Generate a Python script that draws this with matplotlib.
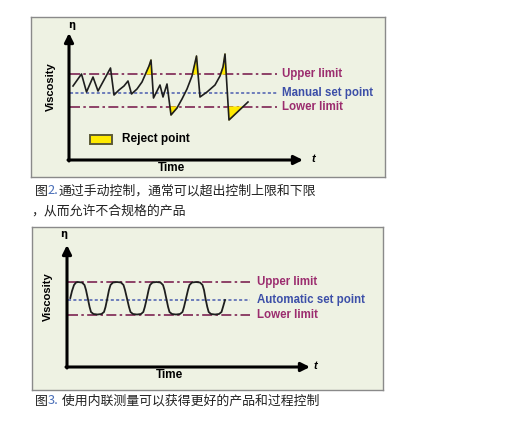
import matplotlib
matplotlib.use("Agg")
import matplotlib.pyplot as plt
from matplotlib.patches import Rectangle
import numpy as np

W, H = 513, 428

# panel 1 - manual control (time / viscosity in axis units, origin at axes corner)
manual_time = [4, 12.5, 17.5, 24, 29, 41.5, 45, 50, 55, 59, 62.5, 68, 73, 76.5, 80, 82,
               84.5, 91, 94, 98, 102, 108, 113, 118, 123, 127.5, 131, 138, 146,
               151, 154, 156, 160, 179]
manual_visc = [74, 86, 68, 83, 69, 92, 65, 70, 74, 79, 66, 71, 78, 86, 94, 100,
               62, 75, 63, 76, 45, 52, 61, 71, 84, 104, 63, 68, 75,
               84, 93, 106, 40, 58]
manual_upper = 86
manual_set = 67
manual_lower = 53
reject_after = 60   # first overshoot is not marked in the original

# panel 2 - automatic (inline) control
auto_time = [3.3, 5, 7, 9, 11, 15, 17.5, 19, 20.8, 22.6, 24, 26.5, 30.5, 34.5,
             37, 38.5, 40.3, 42, 43.5, 46, 50, 54, 56.5, 58, 60, 62, 63.5, 66,
             70, 74, 76.3, 77.8, 79.8, 81.6, 83, 85.5, 89.5, 93.5, 96, 97.5,
             99.3, 101.1, 102.5, 105, 109, 113, 115.5, 117, 119, 121, 122.5,
             125, 129, 133, 135.5, 137, 138.5, 140.3, 141.7, 144, 148, 152,
             154.5, 156, 158]
auto_visc = [69, 76, 82, 84.5, 85, 84.5, 82, 77, 68.5, 60, 55, 53, 52.5, 53,
             55, 60, 68.5, 77, 82, 84.5, 85, 84.5, 82, 77, 68.5, 60, 55, 53,
             52.5, 53, 55, 60, 68.5, 77, 82, 84.5, 85, 84.5, 82, 77,
             68.5, 60, 55, 53, 52.5, 53, 55, 60, 68.5, 77, 82,
             84.5, 85, 84.5, 82, 77, 68.5, 60, 55, 53, 52.5, 53,
             55, 60, 67]
auto_upper = 85
auto_set = 67
auto_lower = 52.5

LIMIT_LINE = "#7d2452"
LIMIT_TEXT = "#9b2c6e"
SET_LINE = "#4a5db0"
SET_TEXT = "#3c4fa8"
PANEL_BG = "#eef2e3"
REJECT = "#ffea00"
TRACE = "#1e1e1e"

fig = plt.figure(figsize=(W / 100, H / 100), dpi=100)
fig.patch.set_facecolor("white")


def make_panel(box, origin):
    # box = (x0, y0, x1, y1) in pixels from top-left, origin = axes corner in px
    x0, y0, x1, y1 = box
    ox, oy = origin
    ax = fig.add_axes([x0 / W, 1 - y1 / H, (x1 - x0) / W, (y1 - y0) / H])
    ax.set_xlim(x0 - ox, x1 - ox)
    ax.set_ylim(oy - y1, oy - y0)
    ax.set_facecolor(PANEL_BG)
    ax.set_xticks([])
    ax.set_yticks([])
    for s in ax.spines.values():
        s.set_color("#8a8a8a")
        s.set_linewidth(1.0)
    return ax


def draw_axes(ax, xtip, ytip, time_x, eta_x, eta_y, visc_x, visc_y, t_x):
    arrow = dict(arrowstyle="-|>", lw=2.2, color="black", mutation_scale=13,
                 shrinkA=0, shrinkB=0)
    ax.annotate("", xy=(0, ytip), xytext=(0, -1), arrowprops=arrow)
    ax.annotate("", xy=(xtip, 0), xytext=(-1, 0), arrowprops=arrow)
    ax.text(eta_x, eta_y, "η", fontsize=7, fontweight="bold", ha="center", va="center")
    ax.text(visc_x, visc_y, "Viscosity", fontsize=8, fontweight="bold",
            rotation=90, ha="center", va="center", family="Liberation Sans")
    ax.text(time_x, -8.5, "Time", fontsize=8.5, fontweight="bold", ha="center",
            va="center", family="Liberation Sans")
    ax.text(t_x, 1, "t", fontsize=8, fontweight="bold", style="italic",
            ha="center", va="center", family="Liberation Sans")


def draw_limits(ax, x_end, label_x, upper, setp, lower, set_label):
    ax.plot([1, x_end], [upper, upper], color=LIMIT_LINE, lw=1.2, dashes=[6, 2, 1.5, 2])
    ax.plot([1, x_end], [lower, lower], color=LIMIT_LINE, lw=1.2, dashes=[6, 2, 1.5, 2])
    ax.plot([1, x_end], [setp, setp], color=SET_LINE, lw=1.1, dashes=[2, 1.5])
    kw = dict(fontsize=8.3, fontweight="bold", va="center", ha="left",
              family="Liberation Sans")
    ax.text(label_x, upper, "Upper limit", color=LIMIT_TEXT, **kw)
    ax.text(label_x, setp, set_label, color=SET_TEXT, **kw)
    ax.text(label_x, lower, "Lower limit", color=LIMIT_TEXT, **kw)


# ---- panel 1
ax1 = make_panel((31, 17, 385, 177), (69, 160))
t1 = np.array(manual_time)
v1 = np.array(manual_visc)
draw_limits(ax1, 208, 213, manual_upper, manual_set, manual_lower, "Manual set point")
ax1.fill_between(t1, v1, manual_upper, where=(v1 > manual_upper) & (t1 > reject_after),
                 interpolate=True, facecolor=REJECT, edgecolor=REJECT, lw=0.8, zorder=3)
ax1.fill_between(t1, v1, manual_lower, where=(v1 < manual_lower),
                 interpolate=True, facecolor=REJECT, edgecolor=REJECT, lw=0.8, zorder=3)
ax1.plot(t1, v1, color=TRACE, lw=1.2, zorder=4)
draw_axes(ax1, 234, 127, 103, 3, 135, -18, 73, 244)
ax1.add_patch(Rectangle((21, 16), 22, 9, facecolor=REJECT, edgecolor="#5c5a36", lw=1.4))
ax1.text(53, 21, "Reject point", fontsize=8.5, fontweight="bold", va="center",
         family="Liberation Sans")

# ---- panel 2
ax2 = make_panel((32, 227, 383, 390), (67, 367))
draw_limits(ax2, 183, 190, auto_upper, auto_set, auto_lower, "Automatic set point")
ax2.plot(auto_time, auto_visc, color=TRACE, lw=1.3, zorder=4)
draw_axes(ax2, 243, 122, 103, -3, 133, -19, 70, 248)


# ---- captions (Chinese, with a blue figure number)
def caption(x, y, pieces):
    fig.canvas.draw()
    r = fig.canvas.get_renderer()
    for txt, col in pieces:
        t = fig.text(x / W, 1 - y / H, txt, color=col, fontsize=9.3,
                     family=["Noto Sans CJK SC", "DejaVu Sans"], va="center", ha="left")
        x += t.get_window_extent(r).width


caption(35, 191, [("图", "#222222"), ("2.", "#4a6fb8"),
                  ("通过手动控制，通常可以超出控制上限和下限", "#222222")])
caption(31, 211, [("，从而允许不合规格的产品", "#222222")])
caption(35, 401, [("图", "#222222"), ("3.", "#4a6fb8"),
                  (" 使用内联测量可以获得更好的产品和过程控制", "#222222")])

fig.savefig("out.png", dpi=100, facecolor="white")
